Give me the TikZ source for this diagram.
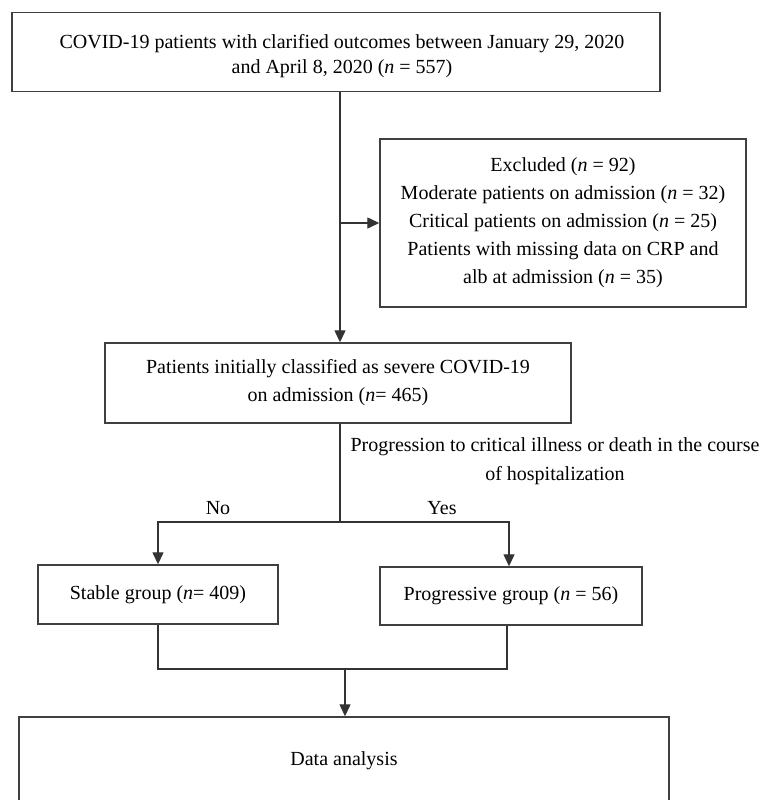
\documentclass[tikz,border=0pt]{standalone}
\usepackage{fontspec}
\setmainfont{Liberation Serif}
\usetikzlibrary{arrows.meta}
\begin{document}
\begin{tikzpicture}[x=1pt,y=-1pt,
  box/.style={draw=black!75,line width=1.4pt,align=center,inner sep=0pt,
              font=\fontsize{20}{28}\selectfont},
  line/.style={draw=black!80,line width=1.3pt},
  arr/.style={line,-{Triangle[length=12pt,width=11pt]}},
  lbl/.style={font=\fontsize{20}{29}\selectfont,inner sep=0pt,align=center}]
\useasboundingbox (0,0) rectangle (758,800);
\clip (0,0) rectangle (758,800);

% boxes
\node[box,minimum width=648pt,minimum height=79pt] (top) at (336,52) {};
\node[lbl,font=\fontsize{20}{25}\selectfont] (toptext) at (342,56)
  {COVID-19 patients with clarified outcomes between January 29, 2020\\
   and April 8, 2020 (\textit{n} = 557)};
\node[box,minimum width=366pt,minimum height=168pt] (excl) at (563,223)
  {Excluded (\textit{n} = 92)\\
   Moderate patients on admission (\textit{n} = 32)\\
   Critical patients on admission (\textit{n} = 25)\\
   Patients with missing data on CRP and\\
   alb at admission (\textit{n} = 35)};
\node[box,minimum width=466pt,minimum height=80pt] (severe) at (338,383)
  {Patients initially classified as severe COVID-19\\
   on admission (\textit{n}= 465)};
\node[box,minimum width=240pt,minimum height=59pt] (stable) at (158,594.5)
  {Stable group (\textit{n}= 409)};
\node[box,minimum width=262pt,minimum height=58pt] (prog) at (511,596)
  {Progressive group (\textit{n} = 56)};
\node[box,minimum width=650pt,minimum height=88pt] (data) at (344,761)
  {Data analysis};

% junction points
\coordinate (split) at (340,223);
\coordinate (fork) at (340,522);
\coordinate (merge) at (345,669);

% connectors
\draw[arr] (top.south -| split) -- (severe.north -| split);
\draw[arr] (split) -- (excl.west);
\draw[line] (severe.south -| fork) -- (fork);
\draw[arr] (fork) -| (stable.north);
\draw[arr] (fork) -| ([xshift=-2pt]prog.north);
\draw[line] (stable.south) |- ([xshift=-4pt]prog.south |- merge) -- ([xshift=-4pt]prog.south);
\draw[arr] (merge) -- (data.north -| merge);

% labels
\node[lbl] (prq) at (555,461)
  {Progression to critical illness or death in the course\\of hospitalization};
\node[lbl] (no) at (218,508) {No};
\node[lbl] (yes) at (442,508) {Yes};
\end{tikzpicture}
\end{document}
